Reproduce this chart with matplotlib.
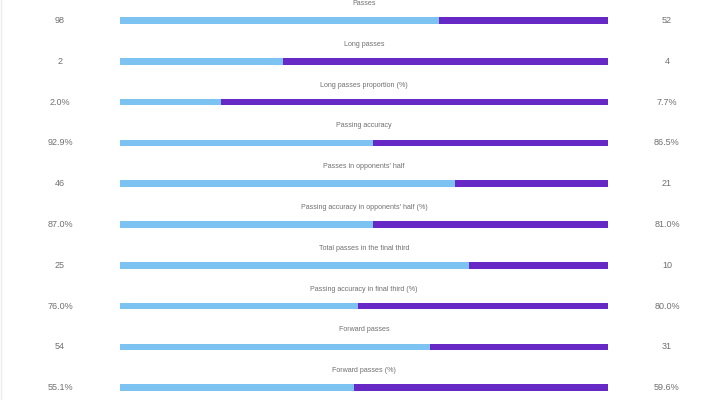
import matplotlib.pyplot as plt

# Match stats: home (left, blue) vs away (right, purple)
labels = [
    "Passes",
    "Long passes",
    "Long passes proportion (%)",
    "Passing accuracy",
    "Passes in opponents' half",
    "Passing accuracy in opponents' half (%)",
    "Total passes in the final third",
    "Passing accuracy in final third (%)",
    "Forward passes",
    "Forward passes (%)",
]
home = [98, 2, 2.0, 92.9, 46, 87.0, 25, 76.0, 54, 55.1]
away = [52, 4, 7.7, 86.5, 21, 81.0, 10, 80.0, 31, 59.6]
is_pct = [False, False, True, True, False, True, False, True, False, True]

BLUE = "#7cc3f2"
PURPLE = "#6629c6"
TEXT = "#707070"

fig = plt.figure(figsize=(7.2, 4.0), dpi=100)
ax = fig.add_axes([0, 0, 1, 1])
ax.set_xlim(0, 720)
ax.set_ylim(400, 0)
ax.axis("off")

bar_left, bar_width = 120, 488
row0, row_step = 20.5, 40.8

for i, (lab, h, a, pct) in enumerate(zip(labels, home, away, is_pct)):
    y = row0 + i * row_step
    frac = h / (h + a)
    ax.barh(y, bar_width * frac, left=bar_left, height=6.5, color=BLUE, linewidth=0)
    ax.barh(y, bar_width * (1 - frac), left=bar_left + bar_width * frac,
            height=6.5, color=PURPLE, linewidth=0)
    fmt = "{:.1f}%" if pct else "{:g}"
    ax.text(60, y, fmt.format(h), ha="center", va="center", fontsize=6.5,
            color=TEXT, family="Liberation Sans")
    ax.text(667, y, fmt.format(a), ha="center", va="center", fontsize=6.5,
            color=TEXT, family="Liberation Sans")
    ax.text(364, y - 17, lab, ha="center", va="center", fontsize=5.1,
            color=TEXT, family="Liberation Sans")

# thin light frame line at the left edge
ax.axvline(0.5, color="#eeeeee", linewidth=1)

fig.savefig("out.png", dpi=100)
